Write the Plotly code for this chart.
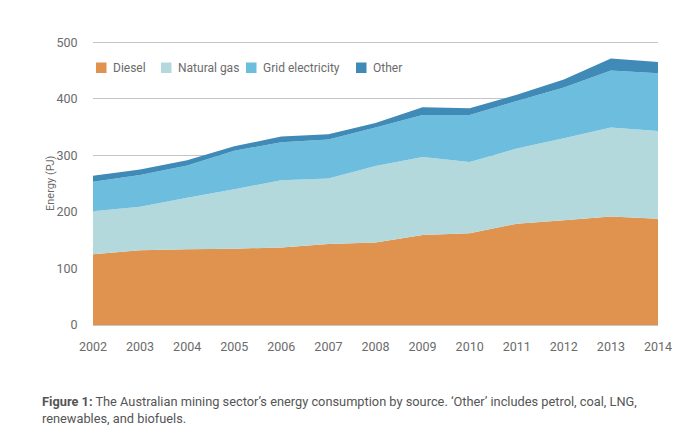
import plotly.graph_objects as go

years = [2002, 2003, 2004, 2005, 2006, 2007, 2008, 2009, 2010, 2011, 2012, 2013, 2014]

# energy by source, PJ
diesel = [125, 132, 134, 135, 137, 143, 146, 159, 162, 179, 185, 192, 188]
natural_gas = [76, 77, 91, 105, 119, 116, 135, 138, 126, 133, 145, 157, 155]
grid_electricity = [52, 56, 57, 68, 67, 69, 68, 74, 83, 84, 90, 101, 102]
other = [11, 10, 9, 8, 10, 9, 8, 14, 12, 11, 14, 21, 20]

series = [
    ("Diesel", diesel, "#E0934F"),
    ("Natural gas", natural_gas, "#B3D9DD"),
    ("Grid electricity", grid_electricity, "#6CBDDE"),
    ("Other", other, "#3F8AB6"),
]

font_family = "Roboto, Arial, sans-serif"
grey = "#6b6b6b"

# plot area on the page (px) - used to place the hand-made legend
PLOT_L, PLOT_R, PLOT_T, PLOT_B = 93, 658, 41, 325
BODY = 8  # default page margin around the plotly div


def px_to_paper(px, py):
    return (px - PLOT_L) / (PLOT_R - PLOT_L), (PLOT_B - py) / (PLOT_B - PLOT_T)


fig = go.Figure()
for name, vals, color in series:
    fig.add_trace(go.Scatter(
        x=years, y=vals, name=name, stackgroup="energy",
        mode="none", fillcolor=color, line=dict(width=0), showlegend=False,
    ))

# legend: small square swatch + label, laid out in a row like the original
legend_x = [96, 161, 246, 356]
for (name, vals, color), lx in zip(series, legend_x):
    x0, y0 = px_to_paper(lx, 62.5)
    x1, y1 = px_to_paper(lx + 10.5, 73)
    fig.add_shape(type="rect", xref="paper", yref="paper",
                  x0=x0, x1=x1, y0=y1, y1=y0,
                  fillcolor=color, line=dict(width=0))
    tx, ty = px_to_paper(lx + 15, 67.8)
    fig.add_annotation(xref="paper", yref="paper", x=tx, y=ty,
                       xanchor="left", yanchor="middle", showarrow=False,
                       text=name, font=dict(size=12, color=grey))

# y axis title sits closer to the tick labels than plotly puts it
tx, ty = px_to_paper(50, 183)
fig.add_annotation(xref="paper", yref="paper", x=tx, y=ty, textangle=-90,
                   xanchor="center", yanchor="middle", showarrow=False,
                   text="Energy (PJ)", font=dict(size=11, color=grey))

# page body has an 8px margin, so the figure is made slightly smaller
fig.update_layout(
    width=700 - BODY, height=444 - BODY,
    paper_bgcolor="white", plot_bgcolor="white",
    margin=dict(l=PLOT_L - BODY, r=700 - PLOT_R, t=PLOT_T - BODY, b=444 - PLOT_B),
    font=dict(family=font_family, size=12, color=grey),
    showlegend=False,
    xaxis=dict(
        range=[2002, 2014], tickvals=years, showgrid=False, zeroline=False,
        showline=False, ticks="outside", ticklen=10, tickcolor="rgba(0,0,0,0)",
        tickfont=dict(size=12.5, color=grey), automargin=False,
    ),
    yaxis=dict(
        range=[0, 502], tickvals=[0, 100, 200, 300, 400, 500],
        showgrid=True, gridcolor="#c4c4c4", gridwidth=1,
        zeroline=True, zerolinecolor="#c4c4c4",
        ticks="outside", ticklen=12, tickcolor="rgba(0,0,0,0)",
        tickfont=dict(size=12.5, color=grey), automargin=False,
    ),
)

fig.add_annotation(
    xref="paper", yref="paper", x=-0.094, y=-0.235,
    xanchor="left", yanchor="top", align="left", showarrow=False,
    text="<b>Figure 1:</b> The Australian mining sector\u2019s energy consumption by source. \u2018Other\u2019 includes petrol, coal, LNG,<br>renewables, and biofuels.",
    font=dict(size=12.8, color="#555555"),
)

fig.write_html("out.html")
